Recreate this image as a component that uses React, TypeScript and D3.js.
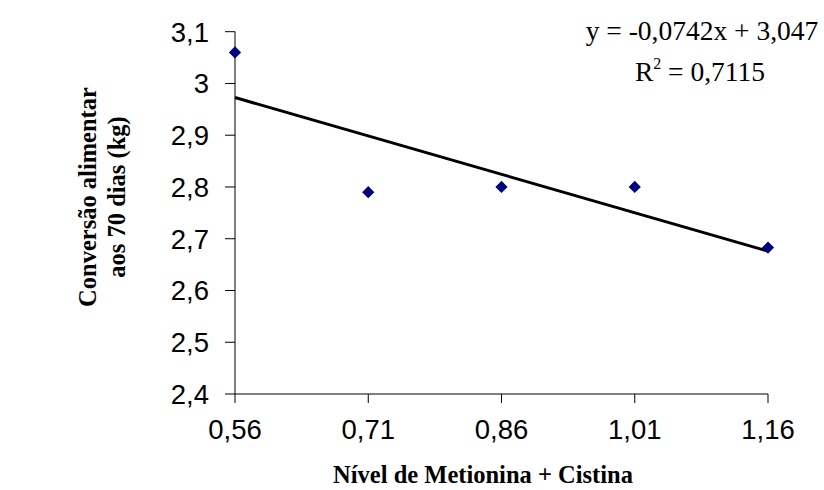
import React from "react";
import * as d3 from "d3";

const width = 824;
const height = 490;

// nível de metionina + cistina
const levels = [0.56, 0.71, 0.86, 1.01, 1.16];
const levelLabels = ["0,56", "0,71", "0,86", "1,01", "1,16"];
// conversão alimentar aos 70 dias
const conversion = [3.06, 2.79, 2.8, 2.8, 2.683];
const yTicks = [2.4, 2.5, 2.6, 2.7, 2.8, 2.9, 3.0, 3.1];

// trend line fitted on point order (1..5)
const slope = -0.0742;
const intercept = 3.047;

const fmt = (v: number) => (Math.round(v * 10) / 10).toString().replace(".", ",");

const App = () => {
  const x = d3.scaleLinear().domain([0.56, 1.16]).range([235, 768]);
  const y = d3.scaleLinear().domain([2.4, 3.1]).range([394, 31.7]);

  const trend = [1, levels.length].map((i) => ({
    x: levels[i - 1],
    y: slope * i + intercept
  }));
  const line = d3
    .line<{ x: number; y: number }>()
    .x((d) => x(d.x))
    .y((d) => y(d.y));

  const diamond = d3.symbol().type(d3.symbolDiamond2).size(95)();

  return (
    <div style={{ position: "absolute", left: 0, top: 0 }}>
      <svg width={width} height={height} style={{ display: "block" }}>
        <rect width={width} height={height} fill="#fff" />
        <g stroke="#000" strokeWidth={1}>
          <line x1={x(0.56)} x2={x(0.56)} y1={y(3.1)} y2={y(2.4)} />
          <line x1={x(0.56)} x2={x(1.16)} y1={y(2.4)} y2={y(2.4)} />
          {yTicks.map((t) => (
            <line key={t} x1={225} x2={x(0.56)} y1={y(t)} y2={y(t)} />
          ))}
          {levels.map((l) => (
            <line key={l} x1={x(l)} x2={x(l)} y1={y(2.4)} y2={y(2.4) + 9} />
          ))}
        </g>
        <g fontFamily="Liberation Sans, Arial, sans-serif" fontSize={27.5} fill="#000">
          {yTicks.map((t) => (
            <text key={t} x={209} y={y(t)} dy="0.36em" textAnchor="end">
              {fmt(t)}
            </text>
          ))}
          {levels.map((l, i) => (
            <text key={l} x={x(l)} y={439} textAnchor="middle">
              {levelLabels[i]}
            </text>
          ))}
        </g>
        <path d={line(trend) || ""} stroke="#000" strokeWidth={3} fill="none" />
        {levels.map((l, i) => (
          <path
            key={l}
            d={diamond || ""}
            transform={`translate(${x(l)},${y(conversion[i])})`}
            fill="#000080"
          />
        ))}
        <g fontFamily="Liberation Serif, Times New Roman, serif" fill="#000">
          <text x={483} y={483} fontSize={24.5} fontWeight="bold" textAnchor="middle">
            Nível de Metionina + Cistina
          </text>
          <g transform="translate(96,197) rotate(-90)" fontSize={24.5} fontWeight="bold">
            <text x={0} y={0} textAnchor="middle">
              Conversão alimentar
            </text>
            <text x={0} y={29} textAnchor="middle">
              aos 70 dias (kg)
            </text>
          </g>
          <text x={702} y={40} fontSize={27.5} textAnchor="middle">
            y = -0,0742x + 3,047
          </text>
          <text x={700} y={81} fontSize={27.5} textAnchor="middle">
            R<tspan dy={-12} fontSize={16}>2</tspan>
            <tspan dy={12}> = 0,7115</tspan>
          </text>
        </g>
      </svg>
    </div>
  );
};

export default App;
